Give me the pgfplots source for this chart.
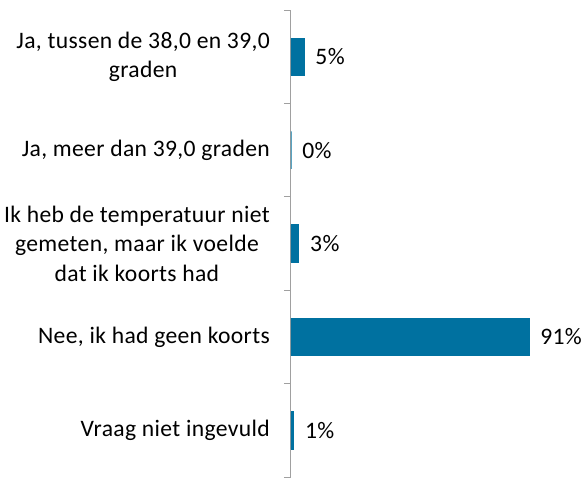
\documentclass[border=0pt]{standalone}
\usepackage{pgfplots}
\pgfplotsset{compat=1.18}
\usepackage{fontspec}
\setmainfont[LetterSpace=1.5]{Carlito}
\definecolor{barc}{RGB}{0,113,160}
\definecolor{axc}{RGB}{160,160,160}
\begin{document}
\begin{tikzpicture}
\begin{axis}[
  scale only axis, width=261.5bp, height=467bp,
  xbar, xmin=0, xmax=100, ymin=-0.5, ymax=4.5, y dir=reverse,
  axis x line=none, axis y line*=left,
  axis line style={axc, line width=1bp, -},
  ytick={0,1,2,3,4},
  yticklabels={{Ja, tussen de 38,0 en 39,0\\graden},{Ja, meer dan 39,0 graden},{Ik heb de temperatuur niet\\gemeten, maar ik voelde\\dat ik koorts had},{Nee, ik had geen koorts},{Vraag niet ingevuld}},
  major tick length=0pt,
  minor ytick={-0.5,0.5,1.5,2.5,3.5,4.5},
  minor tick length=7bp, tick align=outside,
  minor tick style={axc, line width=1bp},
  yticklabel style={align=center, inner sep=0pt, xshift=-21bp, font=\fontsize{23.7}{29.5}\selectfont},
  bar width=0.40,
  nodes near coords={\pgfmathprintnumber[assume math mode=true]{\pgfplotspointmeta}\%},
  nodes near coords style={anchor=west, inner sep=0pt, xshift=11bp, font=\fontsize{23.7}{29.5}\selectfont},
  clip=false,
]
\addplot[fill=barc, draw=barc, line width=0.8bp] coordinates {(5,0) (0,1) (3,2) (91,3) (1,4)};
\end{axis}
\pgfresetboundingbox
\path ([xshift=-291bp,yshift=10bp]current axis.north west) rectangle ([xshift=294bp,yshift=-2bp]current axis.south west);
\end{tikzpicture}
\end{document}
